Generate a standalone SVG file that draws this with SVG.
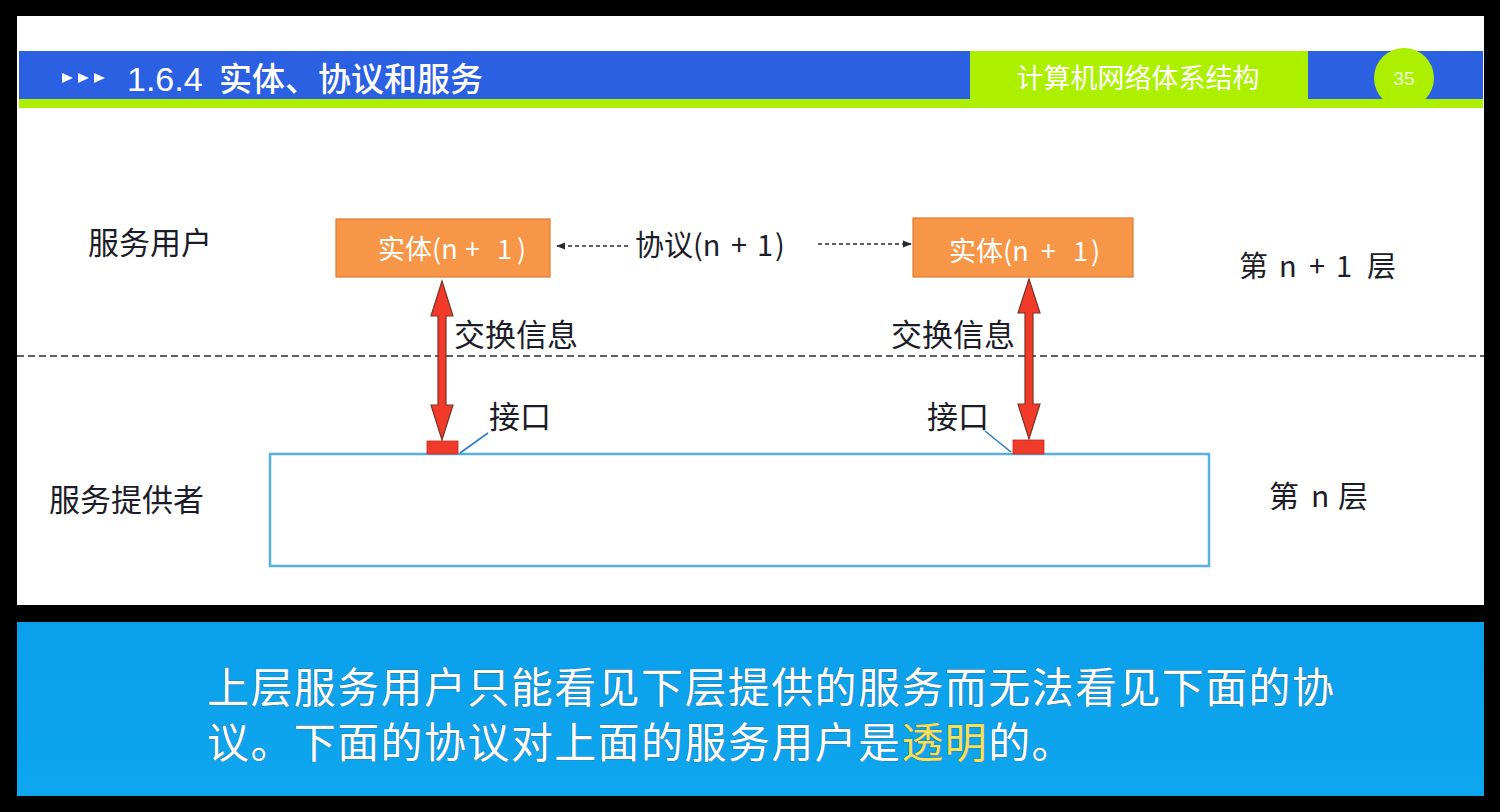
<svg xmlns="http://www.w3.org/2000/svg" width="1500" height="812" viewBox="0 0 1500 812">
<defs>
<style>
.t{font-family:"Noto Sans CJK SC","Noto Sans",sans-serif;fill:#1c1c28}
.w{font-family:"Noto Sans CJK SC","Noto Sans",sans-serif;fill:#ffffff}
.ent{fill:#f79646;stroke:#e07b32;stroke-width:1.2}
.dot{stroke:#2a2a35;stroke-width:1.6;stroke-dasharray:4 3;fill:none}
.red{fill:#f23a2b;stroke:#7a3322;stroke-width:1.2;stroke-linejoin:miter}
.pad{fill:#ef3b2c;stroke:#c9281c;stroke-width:0.8}
.lead{stroke:#2f7dc2;stroke-width:1.6;fill:none}
</style>
<marker id="ah" viewBox="0 0 10 10" refX="9" refY="5" markerWidth="9" markerHeight="9" markerUnits="userSpaceOnUse" orient="auto">
<path d="M0,1 L10,5 L0,9 Z" fill="#2a2a35"/>
</marker>
<linearGradient id="cap" x1="0" y1="0" x2="0" y2="1">
<stop offset="0" stop-color="#0b9fea"/>
<stop offset="1" stop-color="#0ea6ef"/>
</linearGradient>
</defs>
<rect x="0" y="0" width="1500" height="812" fill="#000"/>
<rect x="17" y="16" width="1467" height="589" fill="#ffffff"/>

<g id="header">
<rect x="19" y="51" width="951" height="49" fill="#2c60e2"/>
<rect x="1308" y="51" width="175" height="49" fill="#2c60e2"/>
<rect x="970" y="51" width="338" height="50" fill="#acf000"/>
<rect x="19" y="99" width="1464" height="9" fill="#acf000"/>
<polygon points="62,73 73,78 62,83" fill="#fff"/>
<polygon points="78,73 89,78 78,83" fill="#fff"/>
<polygon points="94,73 105,78 94,83" fill="#fff"/>
<text x="127" y="91" font-family="Liberation Sans,Noto Sans CJK SC,sans-serif" font-size="34" fill="#fff">1.6.4</text>
<text x="219" y="91" class="w" font-size="33" font-weight="500">实体、协议和服务</text>
<text x="1138" y="88" class="w" font-size="27" text-anchor="middle">计算机网络体系结构</text>
<circle cx="1404" cy="78" r="30" fill="#acf000"/>
<text x="1404" y="85" font-family="Liberation Sans,sans-serif" font-size="19" fill="#eaffd6" text-anchor="middle">35</text>
</g>

<g id="label-service-user"><text x="88" y="254" class="t" font-size="31">服务用户</text></g>
<g id="label-provider"><text x="49" y="511" class="t" font-size="31">服务提供者</text></g>
<g id="label-layer-n1"><text class="t" font-size="29" y="277"><tspan x="1239">第</tspan><tspan x="1279">n</tspan><tspan x="1309">+</tspan><tspan x="1336">1</tspan><tspan x="1367">层</tspan></text></g>
<g id="label-layer-n"><text class="t" font-size="30" y="507"><tspan x="1269">第</tspan><tspan x="1311">n</tspan><tspan x="1338">层</tspan></text></g>

<g id="entity-left">
<rect x="336" y="219" width="214" height="58" class="ent"/>
<text class="w" font-size="27" y="259"><tspan x="378">实体(n</tspan><tspan x="465">+</tspan><tspan x="497">1</tspan><tspan x="517">)</tspan></text>
</g>
<g id="entity-right">
<rect x="913" y="218" width="220" height="59" class="ent"/>
<text class="w" font-size="27" y="261"><tspan x="949">实体(n</tspan><tspan x="1041">+</tspan><tspan x="1073">1</tspan><tspan x="1091">)</tspan></text>
</g>

<g id="protocol-label">
<text class="t" font-size="29" y="256"><tspan x="635">协议(n</tspan><tspan x="731">+</tspan><tspan x="757">1</tspan><tspan x="775">)</tspan></text>
</g>

<g id="provider-box">
<rect x="270" y="454" width="939" height="112" fill="#fff" stroke="#58b0e0" stroke-width="2.5"/>
</g>

<g id="pad-left"><rect x="427" y="441" width="31" height="13" class="pad"/></g>
<g id="pad-right"><rect x="1013" y="440" width="31" height="14" class="pad"/></g>

<g id="connectors">
<line x1="17" y1="356" x2="1484" y2="356" stroke="#2a2a35" stroke-width="1.5" stroke-dasharray="7 4"/>
<line x1="628" y1="246" x2="557" y2="246" class="dot" marker-end="url(#ah)"/>
<line x1="818" y1="244" x2="911" y2="244" class="dot" marker-end="url(#ah)"/>
<polygon class="red" points="442,281 453,316 446,316 446,405 453,405 442,440 431,405 438,405 438,316 431,316"/>
<polygon class="red" points="1029,279 1040,313 1033,313 1033,404 1040,404 1029,439 1018,404 1025,404 1025,313 1018,313"/>
<line x1="488" y1="433" x2="460" y2="453" class="lead"/>
<line x1="985" y1="431" x2="1011" y2="452" class="lead"/>
</g>

<g id="labels-exchange">
<text x="454" y="346" class="t" font-size="31">交换信息</text>
<text x="891" y="346" class="t" font-size="31">交换信息</text>
<text x="489" y="428" class="t" font-size="31">接口</text>
<text x="927" y="428" class="t" font-size="31">接口</text>
</g>

<g id="caption">
<rect x="17" y="622" width="1467" height="174" fill="url(#cap)"/>
<text x="207" y="703" class="w" font-size="42" letter-spacing="1.4" stroke="#3a5a78" stroke-width="0.6" paint-order="stroke">上层服务用户只能看见下层提供的服务而无法看见下面的协</text>
<text x="207" y="758" class="w" font-size="42" letter-spacing="1.4" stroke="#3a5a78" stroke-width="0.6" paint-order="stroke">议。下面的协议对上面的服务用户是<tspan fill="#f6e05a">透明</tspan>的。</text>
</g>
</svg>
